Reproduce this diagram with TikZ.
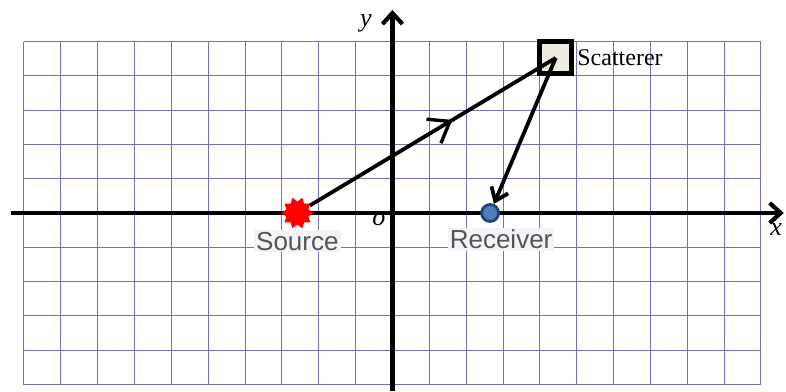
\documentclass[tikz,border=0pt]{standalone}
\usepackage{fontspec}
\setmainfont{Liberation Serif}
\setsansfont{Liberation Sans}
\usepackage{xcolor}
\usepackage{tikz}
\usetikzlibrary{positioning}
\usetikzlibrary{shapes.geometric}
\usetikzlibrary{arrows.meta}
\usetikzlibrary{decorations.markings}

\definecolor{gridblue}{RGB}{112,112,190}
\definecolor{rcvfill}{RGB}{74,126,190}
\definecolor{rcvedge}{RGB}{38,68,115}
\definecolor{sctfill}{RGB}{238,235,226}
\definecolor{lblgray}{RGB}{85,85,85}
\definecolor{lblbg}{RGB}{244,244,248}

\begin{document}
\begin{tikzpicture}[x=36.85pt, y=34.3pt,
    axis/.style={line width=4.2pt, -{Straight Barb[length=11pt, width=20pt]}},
    ray/.style={line width=3.8pt},
    ptlabel/.style={font=\sffamily\fontsize{26}{28}\selectfont, text=lblgray, fill=lblbg, inner sep=2pt},
    axlabel/.style={font=\itshape\fontsize{26}{28}\selectfont, inner sep=0pt}]
    \useasboundingbox[fill=white] (-10.65,-5.19) rectangle (10.68,6.21);
    \draw[gridblue, line width=0.9pt, step=1] (-10,-5) grid (10,5);

    \coordinate (xl) at (-10.35,0);
    \coordinate (xr) at (10.62,0);
    \coordinate (yb) at (0,-5.19);
    \coordinate (yt) at (0,5.92);
    \draw[axis] (xl) -- (xr);
    \draw[axis] (yb) -- (yt);

    \node[axlabel] (xlab) at (10.41,-0.47) {x};
    \node[axlabel] (ylab) at (-0.72,5.52) {y};
    \node[axlabel] (olab) at (-0.37,-0.18) {o};

    \node[star, star points=10, star point ratio=0.72, minimum size=23pt, inner sep=0pt, fill=red] (src) at (-2.58,0) {};
    \node[circle, minimum size=17pt, inner sep=0pt, fill=rcvfill, draw=rcvedge, line width=2.8pt] (rcv) at (2.65,0) {};
    \node[rectangle, minimum size=32pt, inner sep=0pt, fill=sctfill, draw=black, line width=5pt] (sct) at (4.43,4.52) {};

    \node[ptlabel, below=5pt of src] (srclab) {Source};
    \node[ptlabel, below=5pt of rcv, xshift=11pt] (rcvlab) {Receiver};
    \node[font=\fontsize{24}{26}\selectfont, inner sep=2pt, right=1pt of sct] (sctlab) {Scatterer};

    \draw[ray, postaction={decorate}, decoration={markings, mark=at position 0.58 with {\arrow[line width=3.4pt]{Straight Barb[length=19pt, width=28pt]}}}] (src) -- (sct.center);
    \draw[ray, -{Straight Barb[length=12pt, width=18pt]}] (sct.center) -- (rcv);
\end{tikzpicture}
\end{document}
